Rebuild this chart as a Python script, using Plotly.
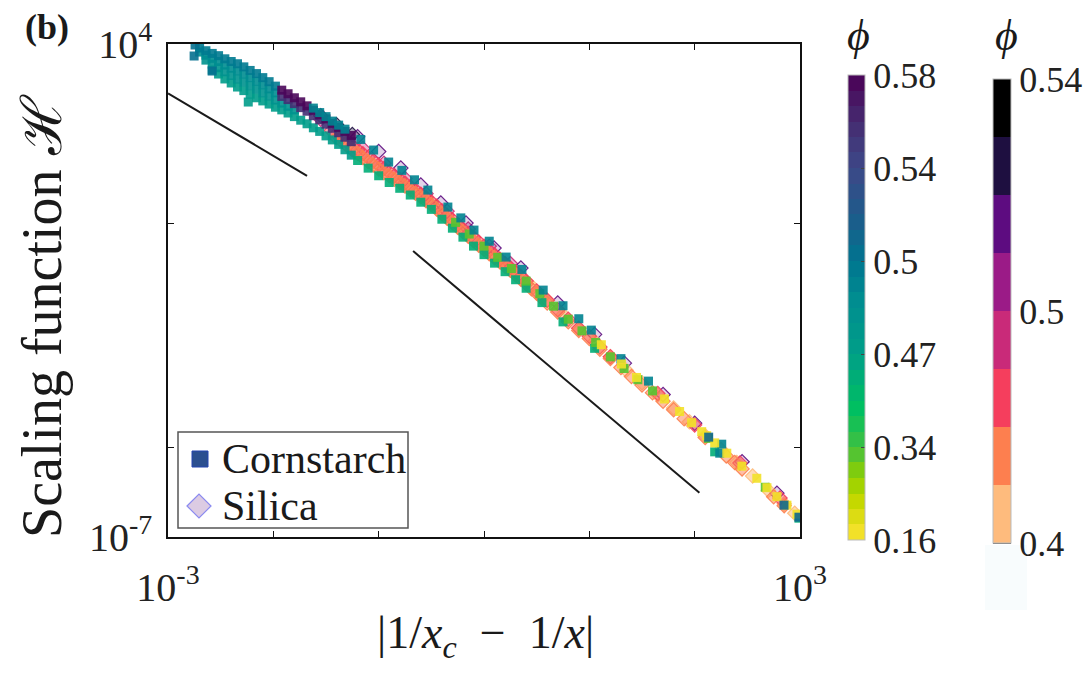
import plotly.graph_objects as go

# =============== data (log10 units) ===============
# Cornstarch groups: log10|1/x_c - 1/x|, log10 H ; colour rank on first phi bar (0..5)
cs_tl_x = [-2.743, -2.752, -2.581]
cs_tl_h = [3.978, 3.732, 3.397]
cs_tl_rank = 3.0

cs_a_teal_x = [-2.70, -2.64, -2.58, -2.52, -2.46, -2.40, -2.34, -2.28, -2.22, -2.16, -2.10, -2.04, -1.98]
cs_a_teal_h = [3.91, 3.85, 3.79, 3.74, 3.67, 3.61, 3.56, 3.49, 3.41, 3.34, 3.25, 3.16, 3.06]
cs_a_teal_rank = 2.85

cs_b_teal_x = [-2.70, -2.64, -2.58, -2.52, -2.46, -2.40, -2.34, -2.28, -2.22, -2.16, -2.10, -2.04, -1.98]
cs_b_teal_h = [3.82, 3.75, 3.68, 3.61, 3.53, 3.46, 3.40, 3.33, 3.25, 3.17, 3.09, 3.00, 2.91]
cs_b_teal_rank = 2.6

cs_c_x = [-2.64, -2.58, -2.52, -2.46, -2.40, -2.34, -2.28, -2.22, -2.16, -2.10, -2.04, -1.98, -1.92, -1.86, -1.80]
cs_c_h = [3.64, 3.55, 3.47, 3.38, 3.30, 3.22, 3.15, 3.07, 2.99, 2.91, 2.84, 2.75, 2.68, 2.61, 2.53]
cs_c_rank = 2.35

cs_d_x = [-2.58, -2.52, -2.46, -2.40, -2.34, -2.28, -2.22, -2.16, -2.10, -2.04, -1.98, -1.92,
          -1.86, -1.80, -1.74, -1.68, -1.62, -1.56, -1.50, -1.44, -1.38, -1.32, -1.26, -2.238]
cs_d_h = [3.42, 3.33, 3.22, 3.13, 3.04, 2.96, 2.88, 2.80, 2.73, 2.66, 2.59, 2.53,
          2.46, 2.38, 2.30, 2.22, 2.13, 2.05, 1.95, 1.86, 1.76, 1.64, 1.52, 2.705]
cs_d_rank = 2.0

cs_violet_x = [-1.92, -1.86, -1.80, -1.74, -1.68, -1.62, -1.56, -1.50, -1.44, -1.38, -1.32, -1.26]
cs_violet_h = [2.83, 2.76, 2.67, 2.58, 2.50, 2.40, 2.31, 2.21, 2.12, 2.02, 1.92, 1.82]
cs_violet_rank = 4.4

cs_purple_x = [-1.92, -1.86, -1.80, -1.74, -1.68, -1.62, -1.56, -1.50, -1.44, -1.38, -1.32, -1.26]
cs_purple_h = [2.97, 2.89, 2.80, 2.71, 2.62, 2.52, 2.42, 2.33, 2.23, 2.14, 2.05, 1.96]
cs_purple_rank = 4.9

cs_top_x = [-1.62, -1.56, -1.50, -1.44, -1.38, -1.32, -1.17, -1.048, -0.905, -0.78, -0.66, -0.533,
            -0.343, -0.22, -0.095, 0.05, 0.210, 0.36, 0.562, 0.75, 0.90, 1.019, 1.30, 1.562,
            2.257, 2.238]
cs_top_h = [2.57, 2.47, 2.38, 2.28, 2.19, 2.10, 1.87, 1.634, 1.366, 1.18, 0.97, 0.741,
            0.362, 0.12, -0.152, -0.40, -0.754, -1.03, -1.491, -1.84, -2.13, -2.384, -3.02, -3.522,
            -4.929, -5.130]
cs_top_rank = 2.75

cs_dark_x = [2.133, 2.848, 2.990]
cs_dark_h = [-4.772, -6.290, -6.558]
cs_dark_rank = 3.25

cs_green_x = [-1.20, -1.10, -1.00, -0.90, -0.80, -0.70, -0.60, -0.50, -0.40, -0.30, -0.20, -0.10,
              0.00, 0.10, 0.20, 0.30, 0.40, 0.55, 0.75, 1.05, 2.19, 2.99]
cs_green_h = [1.40, 1.23, 1.06, 0.91, 0.78, 0.63, 0.47, 0.31, 0.09, -0.11, -0.31, -0.51,
              -0.70, -0.89, -1.08, -1.26, -1.45, -1.77, -2.20, -2.79, -5.10, -6.58]
cs_green_rank = 1.8

cs_lime_x = [-0.27, -0.14, 0.00, 0.13, 0.26, 0.40, 0.53, 0.66, 0.80, 0.93, 1.06, 1.20, 1.33,
             1.46, 1.60, 2.13, 2.67]
cs_lime_h = [0.02, -0.24, -0.51, -0.76, -1.01, -1.29, -1.57, -1.85, -2.14, -2.40, -2.66, -2.98,
             -3.24, -3.49, -3.74, -4.80, -5.89]
cs_lime_rank = 0.9

cs_yellow_x = [1.114, 1.305, 1.448, 1.714, 1.857, 1.971, 2.067, 2.114, 2.190, 2.305, 2.448,
               2.590, 2.686, 2.781, 2.876, 2.971]
cs_yellow_h = [-2.71, -3.14, -3.44, -3.92, -4.20, -4.45, -4.65, -4.74, -4.90, -5.13, -5.42,
               -5.69, -5.90, -6.10, -6.29, -6.49]
cs_yellow_rank = 0.15

# Silica groups: colour rank on second phi bar (0..8)
si_peach_x = [0.15, 0.30, 0.45, 0.60, 0.75, 0.90, 1.05, 1.20, 1.35, 1.50, 1.65, 1.80, 1.95,
              2.10, 2.25, 2.40, 2.55, 2.70, 2.85, 2.95]
si_peach_h = [-0.80, -1.09, -1.40, -1.72, -2.04, -2.34, -2.64, -2.98, -3.28, -3.56, -3.83,
              -4.12, -4.43, -4.74, -5.05, -5.34, -5.64, -5.96, -6.26, -6.47]
si_peach_rank = 0.5

si_orange_x = [-1.40, -1.35, -1.30, -1.25, -1.20, -1.15, -1.10, -1.05, -1.00, -0.95,
               -0.90, -0.85, -0.80, -0.75, -0.70, -0.65, -0.60, -0.55, -0.50, -0.45,
               -0.40, -0.35, -0.30, -0.25, -0.20, -0.15, -0.10, -0.05, 0.00, 0.05,
               0.10, 0.15, 0.20, 0.25, 0.30, 0.35, 0.40, 0.45, 0.50, 0.55, 0.60,
               0.70, 0.80, 0.90, 1.00, 1.10, 1.20, 1.30, 1.40, 1.50, 1.60, 1.70, 1.80,
               1.90, 2.10, 2.30, 2.38, 2.45, 2.75, 2.85]
si_orange_h = [1.91, 1.83, 1.73, 1.64, 1.56, 1.47, 1.38, 1.30, 1.21, 1.13,
               1.06, 0.98, 0.91, 0.83, 0.75, 0.67, 0.59, 0.50, 0.42, 0.32,
               0.21, 0.11, 0.01, -0.09, -0.19, -0.29, -0.39, -0.49, -0.58, -0.68,
               -0.77, -0.86, -0.96, -1.05, -1.15, -1.25, -1.35, -1.46, -1.56, -1.67, -1.78,
               -1.98, -2.20, -2.39, -2.57, -2.81, -3.02, -3.22, -3.42, -3.61, -3.78, -3.97, -4.16,
               -4.36, -4.78, -5.19, -5.34, -5.48, -6.10, -6.30]
si_orange_rank = 1.5

si_red_x = [-1.45, -1.40, -1.35, -1.30, -1.25, -1.20, -1.15, -1.10, -1.05, -1.00,
            -0.95, -0.90, -0.85, -0.80, -0.75, -0.70, -0.65, -0.60, -0.55, -0.50,
            -0.45, -0.40, -0.35, -0.30, -0.25, -0.20, -0.15, -0.10, -0.05, 0.00,
            0.05, 0.10, 0.15, 0.20, 0.25, 0.30, 0.35, 0.40,
            0.50, 0.60, 0.70, 0.80, 0.90, 1.00, 1.10, 1.20, 1.65, 2.00, 2.43, 2.81]
si_red_h = [2.07, 1.99, 1.90, 1.81, 1.73, 1.64, 1.55, 1.47, 1.39, 1.30,
            1.22, 1.14, 1.06, 0.98, 0.90, 0.82, 0.74, 0.65, 0.57, 0.48,
            0.38, 0.28, 0.18, 0.08, -0.03, -0.13, -0.23, -0.32, -0.42, -0.51,
            -0.61, -0.70, -0.80, -0.90, -0.99, -1.09, -1.19, -1.29,
            -1.51, -1.72, -1.93, -2.14, -2.34, -2.52, -2.76, -2.98, -3.80, -4.50, -5.35, -6.13]
si_red_rank = 2.5

si_magenta_x = [-1.55, -1.35, -1.15, -0.95, -0.75, -0.55, -0.35, -0.15, 0.05, 0.25]
si_magenta_h = [2.32, 2.01, 1.67, 1.34, 1.00, 0.66, 0.27, -0.13, -0.51, -0.90]
si_magenta_rank = 3.6

si_purple_x = [-1.20, -1.00, -0.790, -0.600, -0.410, -0.171, 0.095, 0.35, 0.70, 1.05,
               1.333, 1.70, 2.000, 2.45, 2.781]
si_purple_h = [1.93, 1.60, 1.232, 0.853, 0.451, 0.004, -0.554, -1.00, -1.78, -2.48,
               -3.121, -3.82, -4.460, -5.32, -6.022]
si_purple_rank = 5.5

si_dark_x = [-1.55, -1.40, -1.25]
si_dark_h = [2.40, 2.20, 1.98]
si_dark_rank = 6.3

phi_cs_labels = ["0.16", "0.34", "0.47", "0.5", "0.54", "0.58"]
phi_si_labels = ["0.4", "0.5", "0.54"]
phi_si_label_rank = [0, 4, 8]

guide1_log_x = [-3.0, -1.68]
guide1_log_h = [2.90, 1.06]
guide2_log_x = [-0.673, 2.045]
guide2_log_h = [-0.62, -6.015]

x_tick_exp = [-3, -2, -1, 0, 1, 2, 3]
x_tick_labels = ["10<sup>-3</sup>", "", "", "", "", "", "10<sup>3</sup>"]
y_tick_exp = [4, 0, -5, -7]
y_tick_labels = ["10<sup>4</sup>", "", "", "10<sup>-7</sup>"]
legend_names = ["Cornstarch", "Silica"]

# =============== styling ===============
FONT = "Liberation Serif, Times New Roman, serif"
W, H = 1092, 673
L, R, T, B = 168, 800, 44, 537
PW, PH = R - L, B - T


def px(xp):
    return (xp - L) / PW


def py(yp):
    return (B - yp) / PH


vir_anchor = [
    (0.00, (253, 227, 51)), (0.08, (200, 216, 0)), (0.135, (144, 208, 0)),
    (0.20, (64, 192, 64)), (0.28, (0, 192, 96)), (0.40, (0, 159, 136)),
    (0.52, (0, 140, 144)), (0.60, (0, 117, 144)), (0.70, (31, 90, 138)),
    (0.80, (61, 72, 136)), (0.90, (69, 43, 112)), (1.00, (75, 0, 85)),
]


def interp_col(f):
    for (f0, c0), (f1, c1) in zip(vir_anchor[:-1], vir_anchor[1:]):
        if f <= f1:
            t = (f - f0) / (f1 - f0)
            return tuple(int(round(a + (b - a) * t)) for a, b in zip(c0, c1))
    return vir_anchor[-1][1]


NB = 30
vir_scale = []
for i in range(NB):
    s = "rgb(%d,%d,%d)" % interp_col((i + 0.5) / NB)
    vir_scale.append([i / NB, s])
    vir_scale.append([(i + 1) / NB, s])

magma_bands = [(254, 187, 125), (253, 127, 79), (245, 62, 93), (201, 42, 121),
               (155, 27, 135), (93, 12, 128), (30, 15, 64), (0, 0, 0)]
mag_scale = []
for i, c in enumerate(magma_bands):
    s = "rgb(%d,%d,%d)" % c
    mag_scale.append([i / 8, s])
    mag_scale.append([(i + 1) / 8, s])

cs_groups = [
    (cs_d_x, cs_d_h, cs_d_rank), (cs_c_x, cs_c_h, cs_c_rank),
    (cs_b_teal_x, cs_b_teal_h, cs_b_teal_rank), (cs_a_teal_x, cs_a_teal_h, cs_a_teal_rank),
    (cs_tl_x, cs_tl_h, cs_tl_rank),
    (cs_violet_x, cs_violet_h, cs_violet_rank), (cs_purple_x, cs_purple_h, cs_purple_rank),
    (cs_green_x, cs_green_h, cs_green_rank), (cs_lime_x, cs_lime_h, cs_lime_rank),
    (cs_top_x, cs_top_h, cs_top_rank), (cs_yellow_x, cs_yellow_h, cs_yellow_rank),
    (cs_dark_x, cs_dark_h, cs_dark_rank),
]
# (x, h, rank, fill alpha)
si_groups = [
    (si_dark_x, si_dark_h, si_dark_rank, 0.35),
    (si_magenta_x, si_magenta_h, si_magenta_rank, 0.35),
    (si_purple_x, si_purple_h, si_purple_rank, 0.18),
    (si_peach_x, si_peach_h, si_peach_rank, 0.55),
    (si_red_x, si_red_h, si_red_rank, 0.45),
    (si_orange_x, si_orange_h, si_orange_rank, 0.5),
]

fig = go.Figure()

# guide lines
for gx, gy in [(guide1_log_x, guide1_log_h), (guide2_log_x, guide2_log_h)]:
    fig.add_trace(go.Scatter(x=[10 ** v for v in gx], y=[10 ** v for v in gy], mode="lines",
                             line=dict(color="#1a1a1a", width=2), showlegend=False,
                             hoverinfo="skip"))

# silica (diamonds, translucent fill)
si_x, si_y, si_fill, si_line = [], [], [], []
for gx, gy, rk, al in si_groups:
    col = magma_bands[min(7, int(rk))]
    for a, b in zip(gx, gy):
        si_x.append(10 ** a)
        si_y.append(10 ** b)
        si_fill.append("rgba(%d,%d,%d,%.2f)" % (col + (al,)))
        si_line.append("rgba(%d,%d,%d,0.9)" % col)
fig.add_trace(go.Scatter(x=si_x, y=si_y, mode="markers", name=legend_names[1],
                         marker=dict(symbol="diamond", size=11, color=si_fill,
                                     line=dict(color=si_line, width=1.2)),
                         showlegend=False))

# cornstarch (squares)
cs_x, cs_y, cs_c = [], [], []
for gx, gy, rk in cs_groups:
    for a, b in zip(gx, gy):
        cs_x.append(10 ** a)
        cs_y.append(10 ** b)
        cs_c.append(rk)
fig.add_trace(go.Scatter(
    x=cs_x, y=cs_y, mode="markers", name=legend_names[0], showlegend=False,
    marker=dict(symbol="square", size=9, color=cs_c, colorscale=vir_scale, cmin=0, cmax=5,
                opacity=0.9, line=dict(width=0),
                colorbar=dict(
                    thickness=17, thicknessmode="pixels", len=465, lenmode="pixels",
                    x=px(848), xanchor="left", xpad=0, y=py(540), yanchor="bottom", ypad=0,
                    tickmode="array", tickvals=list(range(len(phi_cs_labels))),
                    ticktext=phi_cs_labels, ticks="inside", ticklen=4, tickcolor="#444",
                    tickfont=dict(family=FONT, size=36, color="#222"),
                    outlinewidth=1, outlinecolor="#bbbbbb"))))

# second colour bar (silica phi)
fig.add_trace(go.Scatter(
    x=[None], y=[None], mode="markers", showlegend=False, hoverinfo="skip",
    marker=dict(color=[0], colorscale=mag_scale, cmin=0, cmax=8, showscale=True,
                colorbar=dict(
                    thickness=18, thicknessmode="pixels", len=464, lenmode="pixels",
                    x=px(993), xanchor="left", xpad=0, y=py(543), yanchor="bottom", ypad=0,
                    tickmode="array", tickvals=phi_si_label_rank, ticktext=phi_si_labels,
                    ticks="", tickfont=dict(family=FONT, size=36, color="#222"),
                    outlinewidth=1, outlinecolor="#bbbbbb"))))

axis_common = dict(type="log", showgrid=False, zeroline=False, showline=True,
                   linecolor="#111", linewidth=1.5, mirror="ticks", ticks="inside",
                   ticklen=6, tickwidth=1.2, tickcolor="#111",
                   tickfont=dict(family=FONT, size=40, color="#222"))


def ann(text, x, y, size, **kw):
    d = dict(text=text, x=px(x), y=py(y), xref="paper", yref="paper", showarrow=False,
             xanchor="center", yanchor="middle",
             font=dict(family=FONT, size=size, color="#1a1a1a"))
    d.update(kw)
    return d


# legend drawn in pixel-matched position
leg_shapes = [
    dict(type="rect", xref="paper", yref="paper", x0=px(178), x1=px(408), y0=py(528), y1=py(432),
         fillcolor="white", line=dict(color="#555", width=1.5), layer="above"),
    dict(type="rect", xref="paper", yref="paper", x0=px(192), x1=px(208), y0=py(467), y1=py(451),
         fillcolor="#2b4f8f", line=dict(color="#2444b0", width=1), layer="above"),
    dict(type="path", xref="paper", yref="paper", layer="above",
         path="M %f,%f L %f,%f L %f,%f L %f,%f Z" % (px(187), py(506), px(199), py(494),
                                                      px(211), py(506), px(199), py(518)),
         fillcolor="#dccbe3", line=dict(color="#8a8af0", width=1.2)),
]

fig.update_layout(
    width=W, height=H, margin=dict(l=L, r=W - R, t=T, b=H - B),
    paper_bgcolor="white", plot_bgcolor="white", showlegend=False,
    xaxis=dict(axis_common, range=[-3, 3], tickmode="array",
               tickvals=[10 ** e for e in x_tick_exp], ticktext=x_tick_labels,
               ticklabelstandoff=14),
    yaxis=dict(axis_common, range=[-7, 4], tickmode="array",
               tickvals=[10 ** e for e in y_tick_exp], ticktext=y_tick_labels,
               ticklabelstandoff=6),
    font=dict(family=FONT, color="#222"),
    annotations=[
        ann("<b>(b)</b>", 47, 27, 36),
        ann("Scaling function ℋ", 42, 316, 56, textangle=-90),
        ann("|1/<i>x</i><sub><i>c</i></sub>  −  1/<i>x</i>|", 485, 636, 46),
        ann("<i>ϕ</i>", 858, 35, 44),
        ann("<i>ϕ</i>", 1006, 35, 44),
        ann(legend_names[0], 220, 459, 42, xanchor="left"),
        ann(legend_names[1], 220, 506, 42, xanchor="left"),
    ],
    shapes=[
        dict(type="rect", xref="paper", yref="paper", x0=px(985), x1=px(1027),
             y0=py(610), y1=py(545), fillcolor="#f8fcfd", line=dict(width=0), layer="below"),
        dict(type="line", xref="paper", yref="paper", x0=px(993), x1=px(1011),
             y0=py(543), y1=py(543), line=dict(color="#333", width=1.5)),
    ] + leg_shapes,
)

fig.write_html("out.html")
